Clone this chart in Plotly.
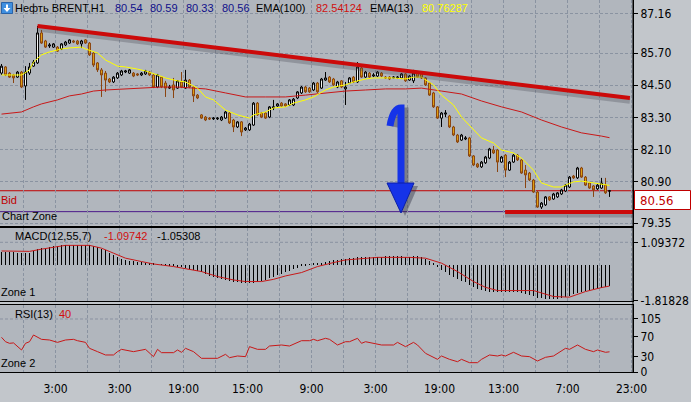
import plotly.graph_objects as go
from plotly.subplots import make_subplots

# ---------------- data ----------------
bar_open = [84.95, 85.18, 84.95, 84.88, 84.80, 84.99, 84.47, 84.95, 85.21, 85.33,
            86.45, 86.15, 85.96, 85.92, 85.92, 85.85, 86.00, 86.07, 86.15, 86.15,
            86.04, 86.19, 86.07, 85.70, 85.33, 85.07, 84.95, 84.73, 84.62, 84.77,
            84.88, 84.99, 84.95, 84.95, 84.92, 84.88, 84.92, 84.99, 84.88, 84.43,
            84.80, 84.58, 84.39, 84.51, 84.39, 84.62, 84.39, 84.69, 84.43, 84.13,
            83.39, 83.31, 83.27, 83.24, 83.24, 83.20, 83.27, 83.46, 83.20, 82.94,
            83.13, 82.83, 82.83, 83.01, 83.83, 83.46, 83.46, 83.31, 83.65, 83.72,
            83.83, 83.80, 83.76, 83.76, 84.02, 84.21, 84.43, 84.39, 84.32, 84.58,
            84.39, 84.69, 84.80, 84.73, 84.43, 84.66, 84.36, 84.58, 84.80, 84.62,
            85.14, 84.80, 84.95, 84.84, 84.84, 84.95, 84.80, 84.80, 84.77, 84.77,
            84.77, 84.92, 84.69, 84.66, 84.99, 84.92, 84.77, 84.58, 84.21, 83.69,
            83.27, 83.42, 83.35, 82.94, 82.64, 82.45, 82.49, 82.53, 81.86, 81.56,
            81.45, 81.60, 81.78, 82.08, 82.08, 81.63, 81.89, 81.33, 81.63, 81.89,
            81.71, 81.33, 81.22, 80.96, 80.51, 79.95, 80.03, 80.33, 80.25, 80.33,
            80.44, 80.55, 80.70, 81.11, 81.04, 81.41, 81.07, 80.85, 80.74, 80.63,
            80.66, 80.77, 80.54]
bar_high = [85.29, 85.21, 84.99, 84.92, 85.03, 85.03, 85.21, 85.33, 85.44, 86.71,
            86.56, 86.19, 86.07, 86.07, 85.96, 86.07, 86.15, 86.22, 86.19, 86.19,
            86.19, 86.22, 86.11, 85.74, 85.36, 85.14, 85.03, 84.77, 84.84, 84.99,
            85.07, 85.07, 85.10, 84.99, 84.95, 84.99, 85.07, 85.03, 84.92, 84.92,
            84.84, 84.66, 84.51, 84.77, 84.69, 84.99, 85.07, 84.73, 84.47, 84.17,
            83.42, 83.35, 83.31, 83.31, 83.31, 83.35, 83.54, 83.50, 83.24, 83.16,
            83.16, 82.94, 83.09, 83.87, 83.87, 83.50, 83.50, 83.72, 83.95, 83.83,
            83.87, 83.83, 83.98, 84.02, 84.28, 84.47, 84.47, 84.43, 84.62, 84.62,
            84.77, 84.99, 84.84, 84.77, 84.66, 84.69, 84.62, 84.80, 84.84, 85.36,
            85.18, 85.03, 84.99, 84.95, 85.03, 84.99, 84.84, 84.84, 84.84, 84.84,
            84.95, 84.95, 84.88, 85.07, 85.03, 84.95, 84.80, 84.62, 84.25, 83.72,
            83.50, 83.57, 83.39, 82.98, 82.68, 82.68, 82.60, 82.57, 81.89, 81.60,
            81.67, 81.86, 82.16, 82.23, 82.12, 81.86, 81.93, 81.67, 81.93, 81.93,
            81.74, 81.52, 81.26, 81.00, 80.55, 80.14, 80.36, 80.36, 80.48, 80.51,
            80.63, 80.81, 81.11, 81.15, 81.45, 81.45, 81.11, 80.89, 80.77, 80.81,
            81.04, 81.04, 80.59]
bar_low = [84.88, 84.84, 84.77, 84.58, 84.77, 84.39, 83.95, 84.88, 85.18, 85.29,
           86.04, 85.89, 85.89, 85.89, 85.74, 85.81, 85.96, 86.04, 86.07, 86.00,
           85.89, 86.04, 85.59, 85.18, 84.99, 84.06, 84.25, 84.58, 84.58, 84.73,
           84.84, 84.95, 84.92, 84.80, 84.84, 84.84, 84.88, 84.84, 84.39, 84.39,
           84.39, 84.06, 84.36, 84.02, 84.36, 84.39, 84.36, 84.39, 83.87, 83.98,
           83.24, 83.16, 83.20, 83.20, 83.20, 83.16, 83.24, 83.05, 82.75, 82.90,
           82.60, 82.79, 82.79, 82.98, 83.35, 83.27, 83.24, 83.27, 83.57, 83.69,
           83.69, 83.69, 83.72, 83.72, 83.98, 84.17, 84.21, 84.21, 84.28, 84.21,
           84.36, 84.66, 84.58, 84.47, 84.39, 84.39, 83.76, 84.54, 84.58, 84.58,
           84.77, 84.77, 84.77, 84.80, 84.80, 84.80, 84.73, 84.69, 84.77, 84.73,
           84.73, 84.62, 84.66, 84.58, 84.77, 84.73, 84.47, 84.10, 83.65, 83.24,
           82.94, 83.31, 82.90, 82.60, 82.34, 82.42, 82.45, 81.82, 81.48, 81.41,
           81.41, 81.56, 81.74, 81.93, 81.26, 81.60, 81.07, 81.30, 81.60, 81.67,
           81.19, 80.66, 80.92, 80.48, 79.92, 79.88, 79.99, 80.18, 80.22, 80.29,
           80.40, 80.51, 80.66, 81.00, 81.00, 81.04, 80.74, 80.63, 80.33, 80.59,
           80.63, 80.44, 80.33]
bar_close = [85.21, 84.88, 84.80, 84.77, 84.99, 84.43, 84.99, 85.18, 85.36, 86.45,
             86.07, 85.92, 86.00, 86.04, 85.77, 86.04, 86.11, 86.19, 86.11, 86.04,
             86.15, 86.07, 85.63, 85.25, 85.07, 84.88, 84.69, 84.62, 84.80, 84.95,
             85.03, 85.03, 85.07, 84.84, 84.88, 84.95, 85.03, 84.88, 84.43, 84.88,
             84.43, 84.39, 84.43, 84.32, 84.66, 84.43, 84.69, 84.43, 84.10, 84.02,
             83.27, 83.20, 83.24, 83.27, 83.27, 83.31, 83.50, 83.09, 82.94, 83.13,
             82.75, 82.90, 83.05, 83.83, 83.39, 83.31, 83.27, 83.69, 83.69, 83.80,
             83.72, 83.72, 83.95, 83.98, 84.25, 84.43, 84.25, 84.25, 84.58, 84.25,
             84.73, 84.77, 84.62, 84.51, 84.62, 84.43, 84.43, 84.77, 84.62, 85.18,
             84.80, 84.99, 84.80, 84.88, 84.99, 84.84, 84.77, 84.73, 84.80, 84.80,
             84.92, 84.66, 84.84, 84.95, 84.80, 84.77, 84.51, 84.13, 83.69, 83.27,
             83.46, 83.46, 82.94, 82.64, 82.38, 82.64, 82.53, 81.86, 81.52, 81.45,
             81.63, 81.82, 82.12, 81.97, 81.63, 81.82, 81.33, 81.63, 81.89, 81.71,
             81.22, 81.15, 80.96, 80.51, 79.95, 80.10, 80.33, 80.22, 80.44, 80.48,
             80.59, 80.77, 81.07, 81.04, 81.41, 81.07, 80.77, 80.66, 80.59, 80.77,
             80.85, 80.48, 80.56]

ema100_x = [0, 5, 8, 10, 14, 17, 20, 23, 26, 31, 36, 40, 44, 48, 51, 56, 61, 66, 71, 76,
            81, 86, 91, 96, 101, 105, 110, 115, 120, 125, 130, 135, 140, 145, 150, 152]
ema100_y = [83.42, 83.50, 83.69, 83.80, 83.95, 84.10, 84.17, 84.28, 84.32, 84.36,
            84.39, 84.43, 84.43, 84.39, 84.36, 84.21, 84.06, 84.06, 84.06, 84.13,
            84.21, 84.28, 84.32, 84.36, 84.36, 84.39, 84.28, 84.17, 83.91, 83.69,
            83.50, 83.20, 82.94, 82.72, 82.60, 82.54]

ema13_x = [0, 5, 7, 8, 10, 12, 15, 17, 20, 21, 24, 26, 29, 31, 34, 36, 39, 41, 44, 46,
           49, 51, 53, 56, 59, 62, 63, 66, 68, 71, 73, 76, 78, 81, 83, 86, 88, 91, 93, 96,
           98, 101, 103, 105, 108, 110, 113, 115, 118, 120, 123, 125, 128, 130, 133, 135,
           138, 140, 141, 143, 145, 148, 150, 152]
ema13_y = [84.88, 84.88, 85.07, 85.36, 85.63, 85.74, 85.85, 85.89, 85.92, 85.85,
           85.70, 85.44, 85.21, 85.18, 85.10, 85.03, 84.88, 84.77, 84.66, 84.62,
           84.39, 84.06, 83.95, 83.57, 83.39, 83.27, 83.39, 83.50, 83.65, 83.69,
           83.83, 83.95, 84.06, 84.32, 84.43, 84.51, 84.62, 84.73, 84.77, 84.77,
           84.77, 84.73, 84.80, 84.80, 84.51, 84.13, 83.76, 83.31, 82.83, 82.53,
           82.34, 82.08, 81.97, 81.78, 81.33, 80.85, 80.70, 80.70, 80.77, 80.89,
           80.92, 80.85, 80.81, 80.76]

macd_hist = [0.62, 0.62, 0.61, 0.61, 0.60, 0.60, 0.59, 0.60, 0.68, 0.76,
             0.82, 0.85, 0.89, 0.92, 0.94, 0.96, 0.97, 0.98, 0.98, 0.98,
             0.97, 0.97, 0.96, 0.94, 0.88, 0.80, 0.71, 0.60, 0.48, 0.38,
             0.30, 0.24, 0.20, 0.16, 0.13, 0.11, 0.09, 0.07, 0.05, 0.03,
             0.01, -0.02, -0.05, -0.08, -0.11, -0.14, -0.17, -0.20, -0.25, -0.31,
             -0.39, -0.47, -0.55, -0.62, -0.68, -0.73, -0.78, -0.82, -0.86, -0.89,
             -0.92, -0.93, -0.94, -0.91, -0.86, -0.82, -0.76, -0.68, -0.60, -0.53,
             -0.46, -0.39, -0.31, -0.23, -0.15, -0.08, -0.03, 0.01, 0.04, 0.07,
             0.10, 0.14, 0.17, 0.21, 0.25, 0.28, 0.30, 0.32, 0.34, 0.37,
             0.38, 0.39, 0.39, 0.40, 0.40, 0.40, 0.41, 0.41, 0.41, 0.41,
             0.41, 0.40, 0.40, 0.41, 0.41, 0.38, 0.30, 0.18, 0.04, -0.12,
             -0.25, -0.36, -0.50, -0.62, -0.72, -0.80, -0.88, -1.00, -1.12, -1.22,
             -1.28, -1.33, -1.35, -1.36, -1.37, -1.37, -1.38, -1.38, -1.37, -1.37,
             -1.40, -1.46, -1.52, -1.58, -1.65, -1.69, -1.71, -1.73, -1.74, -1.72,
             -1.68, -1.62, -1.55, -1.49, -1.42, -1.37, -1.32, -1.28, -1.24, -1.20,
             -1.16, -1.11, -1.05]

macd_sig_x = [0, 7, 10, 14, 16, 22, 25, 28, 31, 35, 38, 43, 47, 50, 54, 58, 61, 65, 68, 71,
              75, 79, 83, 86, 94, 102, 106, 110, 114, 118, 121, 124, 133, 138, 142, 146, 150, 152]
macd_sig_y = [0.66, 0.64, 0.75, 0.88, 0.94, 0.94, 0.80, 0.55, 0.30, 0.13,
              0.01, -0.12, -0.26, -0.37, -0.62, -0.79, -0.87, -0.87, -0.76, -0.59,
              -0.42, -0.12, 0.08, 0.21, 0.34, 0.34, 0.30, 0.05, -0.37, -0.87,
              -1.16, -1.32, -1.32, -1.62, -1.65, -1.37, -1.17, -1.097]

rsi_x = [0, 1, 2, 3, 5, 6, 7, 8, 10, 12, 14, 16, 18, 19, 21, 22, 24, 26, 28, 29,
         30, 33, 36, 38, 39, 40, 43, 44, 45, 46, 48, 50, 54, 56, 57, 59, 61, 62, 64, 66,
         67, 70, 72, 75, 77, 78, 79, 81, 82, 84, 86, 87, 89, 90, 91, 93, 95, 98, 99, 101,
         103, 104, 106, 109, 110, 112, 114, 115, 117, 119, 120, 122, 124, 125, 126, 128,
         130, 132, 134, 136, 138, 141, 142, 144, 146, 148, 149, 151, 152]
rsi_y = [68.7, 60, 56.8, 57.6, 43.6, 56.8, 60, 73.3, 64.7, 63.4,
         58.7, 63.4, 64.7, 62, 58.7, 46.9, 40.3, 33.7, 33.7, 40.3,
         44.9, 40.3, 44.9, 30.4, 44.9, 38.3, 38.3, 43.6, 39, 46.9,
         40.3, 27.1, 27.1, 35, 28.4, 31.7, 30.4, 50.2, 44.9, 44.9,
         51.5, 53.5, 51.5, 62, 62, 64.7, 62, 66.7, 64.7, 53.5,
         60, 60, 66.7, 56.8, 60, 56.8, 53.5, 53.5, 58.7, 50.2,
         58.7, 53.5, 37, 25.1, 31.7, 25.1, 20.4, 25.1, 18.5, 18.5,
         25.1, 33.7, 31.7, 33.7, 31.7, 39, 31.7, 30.4, 21.8, 29.1,
         31.7, 46.9, 44.9, 53.5, 44.9, 40.3, 43.6, 39, 40]

trend_x = [9.0, 157.1]
trend_y = [86.71, 84.02]
support_x = [125.9, 157.9]
support_y = [79.77, 79.77]
bid_price = 80.56
zone_price = 79.78

time_labels = ["3:00", "3:00", "19:00", "15:00", "9:00", "3:00", "19:00", "13:00", "7:00", "23:00"]
price_ticks = [87.16, 85.70, 84.50, 83.30, 82.10, 80.90, 79.35]
macd_ticks = [1.09372, -1.81828]
rsi_ticks = [105, 70, 30, 0]

# ---------------- style / layout ----------------
W, H = 691, 402
MR, MB = 58, 30
PW, PH = W - MR, H - MB          # plot area 633 x 372 px

def px(x):
    return x / PW

def py(y):
    return 1 - y / PH

PLOT = "#b1b6bd"
PAPER = "#c2c6cb"
GRID = "#8a93a1"
DASH = "3px,2px"
NARROW = "Liberation Sans Narrow, DejaVu Sans Condensed, Arial Narrow, sans-serif"
SANS = "Liberation Sans, Arial, DejaVu Sans, sans-serif"

bars = list(range(len(bar_close)))
grid_vals = [5.5 + 8 * k for k in range(20)]
grid_text = [time_labels[k // 2] if k % 2 == 1 else "" for k in range(20)]

fig = make_subplots(rows=3, cols=1, shared_xaxes=True, vertical_spacing=0.0)

fig.add_trace(go.Candlestick(
    x=bars, open=bar_open, high=bar_high, low=bar_low, close=bar_close,
    increasing=dict(line=dict(color="black", width=1), fillcolor="white"),
    decreasing=dict(line=dict(color="#8a4410", width=1), fillcolor="#e3a514"),
    whiskerwidth=0, hoverinfo="skip", showlegend=False), row=1, col=1)

fig.add_trace(go.Scatter(x=ema100_x, y=ema100_y, mode="lines",
                         line=dict(color="#c81818", width=1), hoverinfo="skip"), row=1, col=1)
fig.add_trace(go.Scatter(x=ema13_x, y=ema13_y, mode="lines",
                         line=dict(color="#ffff00", width=1), hoverinfo="skip"), row=1, col=1)

# shadows of drawn lines
fig.add_trace(go.Scatter(x=trend_x, y=[v - 0.10 for v in trend_y], mode="lines",
                         line=dict(color="rgba(70,70,80,0.30)", width=6), hoverinfo="skip"), row=1, col=1)
fig.add_trace(go.Scatter(x=support_x, y=[v - 0.10 for v in support_y], mode="lines",
                         line=dict(color="rgba(70,70,80,0.30)", width=6), hoverinfo="skip"), row=1, col=1)
fig.add_trace(go.Scatter(x=trend_x, y=trend_y, mode="lines",
                         line=dict(color="#cc0a0a", width=4), hoverinfo="skip"), row=1, col=1)
fig.add_trace(go.Scatter(x=support_x, y=support_y, mode="lines",
                         line=dict(color="#cc0a0a", width=4), hoverinfo="skip"), row=1, col=1)

fig.add_trace(go.Bar(x=bars, y=macd_hist, width=0.25, marker=dict(color="black", line=dict(width=0)),
                     hoverinfo="skip"), row=2, col=1)
fig.add_trace(go.Scatter(x=macd_sig_x, y=macd_sig_y, mode="lines",
                         line=dict(color="#c81818", width=1), hoverinfo="skip"), row=2, col=1)

fig.add_trace(go.Scatter(x=rsi_x, y=rsi_y, mode="lines",
                         line=dict(color="#c81818", width=1), hoverinfo="skip"), row=3, col=1)

fig.update_xaxes(range=[-0.375, 157.875], tickvals=grid_vals, ticktext=grid_text,
                 showgrid=True, gridcolor=GRID, griddash=DASH, gridwidth=1,
                 zeroline=False, showline=True, linecolor="black", linewidth=1,
                 rangeslider=dict(visible=False), fixedrange=True, ticks="")
fig.update_xaxes(showticklabels=False, row=1, col=1)
fig.update_xaxes(showticklabels=False, mirror=True, row=2, col=1)
fig.update_xaxes(showticklabels=True, mirror=True, ticks="outside", ticklen=6, tickcolor=PAPER,
                 tickfont=dict(family=NARROW, size=12, color="black"), row=3, col=1)

fig.update_yaxes(side="right", showline=True, linecolor="black", linewidth=1,
                 ticks="outside", ticklen=4, tickcolor="black", zeroline=False,
                 tickfont=dict(family=NARROW, size=12, color="black"), fixedrange=True)
fig.update_yaxes(domain=[py(225.5), 1], range=[79.263, 87.678], tickvals=price_ticks,
                 ticktext=[f"{v:.2f}" for v in price_ticks], showgrid=True,
                 gridcolor=GRID, griddash=DASH, gridwidth=1, row=1, col=1)
fig.update_yaxes(domain=[py(301), py(227.5)], range=[-1.843, 1.834], tickvals=macd_ticks,
                 ticktext=[f"{v:.5f}" for v in macd_ticks], showgrid=False, row=2, col=1)
fig.update_yaxes(domain=[0, py(305)], range=[0, 132.7], tickvals=rsi_ticks,
                 ticktext=[str(v) for v in rsi_ticks], showgrid=False, row=3, col=1)

shapes = [
    dict(type="line", xref="paper", yref="y", x0=0, x1=1, y0=bid_price, y1=bid_price,
         line=dict(color="#c00000", width=1), layer="below"),
    dict(type="line", xref="paper", yref="y", x0=0, x1=1, y0=zone_price, y1=zone_price,
         line=dict(color="#4b1a8a", width=1), layer="below"),
    dict(type="line", xref="paper", yref="y2", x0=0, x1=1, y0=macd_ticks[0], y1=macd_ticks[0],
         line=dict(color=GRID, width=1, dash=DASH), layer="below"),
    dict(type="line", xref="paper", yref="y3", x0=0, x1=1, y0=rsi_ticks[0], y1=rsi_ticks[0],
         line=dict(color=GRID, width=1, dash=DASH), layer="below"),
    dict(type="line", xref="paper", yref="paper", x0=1, x1=1, y0=0, y1=1,
         line=dict(color="black", width=1)),
    # price box on the right
    dict(type="rect", xref="paper", yref="paper", x0=px(634.5), x1=px(690.5), y0=py(209.5), y1=py(190.5),
         fillcolor="white", line=dict(color="#c00000", width=1)),
    # symbol icon
    dict(type="rect", xref="paper", yref="paper", x0=px(1.5), x1=px(12.5), y0=py(13.5), y1=py(2.5),
         fillcolor="#3f8fe0", line=dict(color="#2a63a8", width=1)),
    dict(type="path", xref="paper", yref="paper",
         path=f"M {px(6)},{py(4.5)} L {px(8)},{py(4.5)} L {px(8)},{py(8)} L {px(10.5)},{py(8)} "
              f"L {px(7)},{py(12)} L {px(3.5)},{py(8)} L {px(6)},{py(8)} Z",
         fillcolor="white", line=dict(width=0)),
    # blue arrow shadow
    dict(type="path", xref="paper", yref="paper",
         path=f"M {px(395)},{py(127)} Q {px(398)},{py(111)} {px(405)},{py(111)} L {px(405)},{py(189)}",
         line=dict(color="rgba(40,40,60,0.40)", width=7)),
    dict(type="path", xref="paper", yref="paper",
         path=f"M {px(391)},{py(186)} L {px(418)},{py(186)} L {px(405)},{py(216)} Z",
         fillcolor="rgba(40,40,60,0.40)", line=dict(width=0)),
    # blue arrow
    dict(type="path", xref="paper", yref="paper",
         path=f"M {px(390)},{py(126)} Q {px(393)},{py(108)} {px(401)},{py(108)} L {px(401)},{py(186)}",
         line=dict(color="#1533e8", width=7)),
    dict(type="path", xref="paper", yref="paper",
         path=f"M {px(387)},{py(183)} L {px(414)},{py(183)} L {px(401)},{py(213)} Z",
         fillcolor="#1533e8", line=dict(color="#0a1fa8", width=1)),
]

def ann(text, x, y, color="black", size=11, family=SANS):
    return dict(text=text, xref="paper", yref="paper", x=px(x - 2), y=py(y),
                xanchor="left", yanchor="middle", showarrow=False,
                font=dict(family=family, size=size, color=color))

annotations = [
    ann("Нефть BRENT,H1", 15, 8),
    ann("80.54", 115, 8, "#10108a"),
    ann("80.59", 150, 8, "#10108a"),
    ann("80.33", 186, 8, "#10108a"),
    ann("80.56", 222, 8, "#10108a"),
    ann("EMA(100)", 256, 8),
    ann("82.54124", 316, 8, "#d01010"),
    ann("EMA(13)", 370, 8),
    ann("80.76287", 422, 8, "#ffff00"),
    ann("Bid", 1, 199.5, "#c00000"),
    ann("Chart Zone", 2, 215.5),
    ann("MACD(12,55,7)", 15, 236),
    ann("-1.09742", 104, 236, "#d01010"),
    ann("-1.05308", 157, 236),
    ann("Zone 1", 1, 292),
    ann("RSI(13)", 15, 313.5),
    ann("40", 59, 313.5, "#d01010"),
    ann("Zone 2", 1, 363),
    ann("80.56", 640, 200, "#c00000", 13, NARROW),
]

fig.update_layout(width=W, height=H, margin=dict(l=0, r=MR, t=0, b=MB),
                  paper_bgcolor=PAPER, plot_bgcolor=PLOT, showlegend=False,
                  boxgap=0.3, bargap=0, shapes=shapes, annotations=annotations)

fig.write_html("out.html", config={"displayModeBar": False},
               post_script="document.body.style.margin='0px';document.body.style.overflow='hidden';")
